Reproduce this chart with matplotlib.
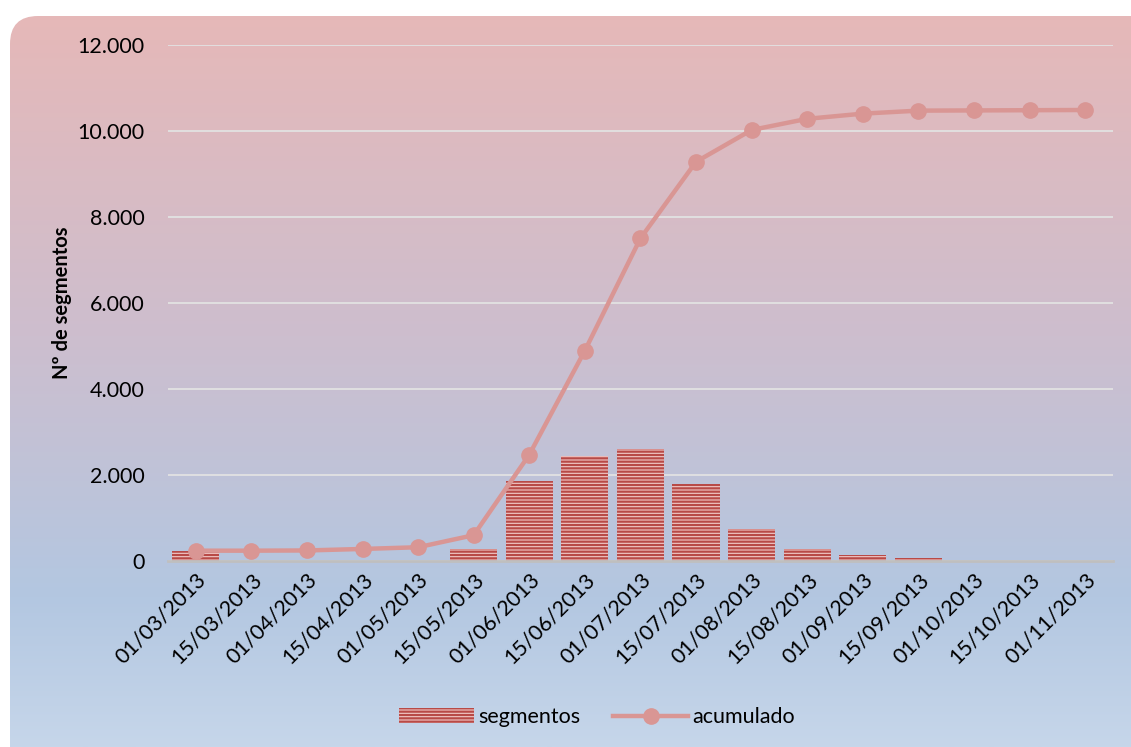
import numpy as np
import matplotlib.pyplot as plt
from matplotlib.patches import FancyBboxPatch
from matplotlib.lines import Line2D
from matplotlib.patches import Patch
from matplotlib.colors import LinearSegmentedColormap
from matplotlib.ticker import FuncFormatter

fechas = ['01/03/2013', '15/03/2013', '01/04/2013', '15/04/2013', '01/05/2013',
          '15/05/2013', '01/06/2013', '15/06/2013', '01/07/2013', '15/07/2013',
          '01/08/2013', '15/08/2013', '01/09/2013', '15/09/2013', '01/10/2013',
          '15/10/2013', '01/11/2013']
segmentos = [240, 0, 0, 0, 0, 290, 1870, 2450, 2610, 1780, 750, 270, 130, 80, 0, 0, 0]
acumulado = [240, 240, 245, 280, 320, 600, 2470, 4890, 7500, 9280, 10020, 10280,
             10400, 10470, 10475, 10480, 10485]

plt.rcParams['font.family'] = ['Lato', 'DejaVu Sans']

fig = plt.figure(figsize=(11.31, 7.47), dpi=100)
fig.patch.set_facecolor('white')

# fondo degradado con esquinas redondeadas
bg = fig.add_axes([0, 0, 1, 1], zorder=0)
bg.set_xlim(0, 1131)
bg.set_ylim(0, 747)
bg.axis('off')
cmap = LinearSegmentedColormap.from_list('fondo', [(0, '#E7B8B7'), (0.45, '#CDBECE'),
                                                   (0.8, '#B3C7E1'), (1, '#C6D6EA')])
grad = np.linspace(0, 1, 256).reshape(-1, 1)
im = bg.imshow(grad, cmap=cmap, extent=[0, 1131, 0, 747], aspect='auto', origin='upper')
caja = FancyBboxPatch((10, -40), 1160, 771, boxstyle='round,pad=0,rounding_size=28',
                      transform=bg.transData, facecolor='none', edgecolor='none')
bg.add_patch(caja)
im.set_clip_path(caja)

ax = fig.add_axes([0.1485, 0.249, 0.8355, 0.691], zorder=1)
ax.patch.set_alpha(0)
x = np.arange(len(fechas))

plt.rcParams['hatch.linewidth'] = 1.6
ax.bar(x, segmentos, width=0.85, color='#F2C9C8', edgecolor='#B84A47', hatch='-----',
       linewidth=0, zorder=2)
ax.plot(x, acumulado, color='#D99694', linewidth=3.2, marker='o', markersize=11,
        zorder=3)

ax.set_xlim(-0.5, len(fechas) - 0.5)
ax.set_ylim(0, 12000)
ax.set_yticks(range(0, 12001, 2000))
ax.yaxis.set_major_formatter(FuncFormatter(lambda v, p: f'{int(v):,}'.replace(',', '.')))
ax.grid(axis='y', color='#E2E2E2', linewidth=1.3, zorder=0)
ax.set_axisbelow(True)
for s in ['top', 'right', 'left']:
    ax.spines[s].set_visible(False)
ax.spines['bottom'].set_color('#BFBFBF')
ax.spines['bottom'].set_linewidth(2)
ax.tick_params(axis='both', length=0, labelsize=15.5, colors='black')
ax.tick_params(axis='y', pad=17)
ax.tick_params(axis='x', pad=6)
ax.set_xticks(x)
ax.set_xticklabels(fechas, rotation=45, ha='right', rotation_mode='anchor')
ax.set_ylabel('Nº de segmentos', fontsize=14.5, fontweight='bold', labelpad=4)

handles = [Patch(facecolor='#F2C9C8', edgecolor='#B84A47', hatch='-----', linewidth=0),
           Line2D([], [], color='#D99694', linewidth=3.2, marker='o', markersize=11)]
fig.legend(handles, ['segmentos', 'acumulado'], loc='center', bbox_to_anchor=(0.528, 0.04),
           ncol=2, frameon=False, fontsize=15.5, handlelength=3.5, handletextpad=0.2,
           columnspacing=1.5)

fig.savefig('out.png', dpi=100)
